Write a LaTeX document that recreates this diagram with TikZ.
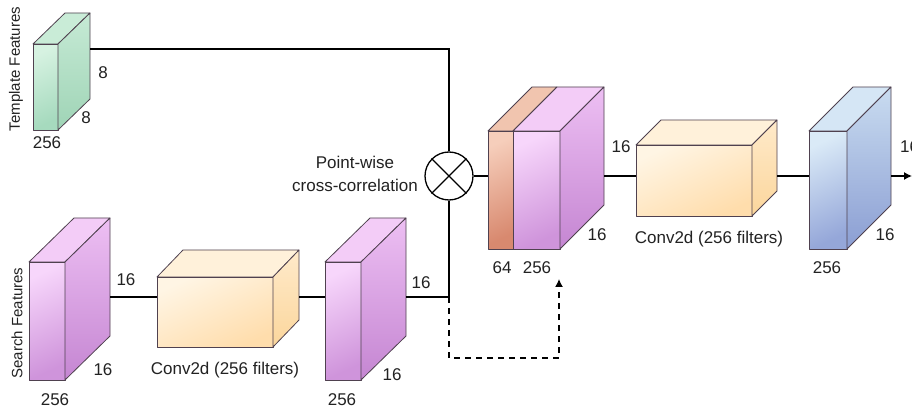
\documentclass[tikz,border=0pt]{standalone}
\usepackage{fontspec}
\setmainfont{Liberation Sans}
\usetikzlibrary{arrows.meta}
\definecolor{edgec}{HTML}{4F414F}
\definecolor{txt}{HTML}{222222}
% purple
\definecolor{purF1}{HTML}{F7D6FB}\definecolor{purF2}{HTML}{CF94DB}
\definecolor{purT}{HTML}{F3CCF7}
\definecolor{purS1}{HTML}{EDBFF3}\definecolor{purS2}{HTML}{C586D2}
% green
\definecolor{grnF1}{HTML}{D6F2E1}\definecolor{grnF2}{HTML}{A6DABE}
\definecolor{grnT}{HTML}{C9ECD7}
\definecolor{grnS1}{HTML}{C6EAD5}\definecolor{grnS2}{HTML}{9FD4B6}
% orange (conv)
\definecolor{orgF1}{HTML}{FFF5E4}\definecolor{orgF2}{HTML}{FFDDAC}
\definecolor{orgT}{HTML}{FFF1DA}
\definecolor{orgS1}{HTML}{FFEACA}\definecolor{orgS2}{HTML}{FBD69C}
% blue
\definecolor{bluF1}{HTML}{DAEAF7}\definecolor{bluF2}{HTML}{95A7D9}
\definecolor{bluT}{HTML}{D5E6F5}
\definecolor{bluS1}{HTML}{C9DCF0}\definecolor{bluS2}{HTML}{8B9ED3}
% salmon
\definecolor{salF1}{HTML}{F6CEBB}\definecolor{salF2}{HTML}{D8896F}
\definecolor{salT}{HTML}{F1C5AF}
\tikzset{
  edge/.style={draw=edgec, line width=0.8pt, line join=round},
  conn/.style={line width=1.3pt, draw=black},
  lbl/.style={font=\fontsize{17}{20}\selectfont, text=txt, inner sep=0pt},
  rlbl/.style={font=\fontsize{15}{18}\selectfont, text=txt, rotate=90, inner sep=0pt},
}
% #1 x1, #2 y1 (top), #3 x2, #4 y2 (bottom), #5 dx, #6 dy (up), #7 colour prefix
\newcommand\mycuboid[7]{%
  \shade[edge, top color=#7F1, bottom color=#7F2, shading angle=25] (#1,#2) rectangle (#3,#4);
  \fill[edge, fill=#7T] (#1,#2) -- ++(#5,-#6) -- ++(#3-#1,0) -- (#3,#2) -- cycle;
  \shade[edge, top color=#7S1, bottom color=#7S2] (#3,#2) -- ++(#5,-#6) -- ++(0,#4-#2) -- (#3,#4) -- cycle;
}
\begin{document}
\begin{tikzpicture}[x=1pt,y=-1pt]
\useasboundingbox (0,0) rectangle (912,411);
\clip (0,0) rectangle (912,411);
\fill[white] (0,0) rectangle (912,411);

% ---------- cuboids ----------
\mycuboid{33}{44}{58}{130}{32}{31}{grn}   % template
\mycuboid{29}{262}{65}{380}{45}{44}{pur}  % search
\mycuboid{157}{277}{273}{347}{26}{27}{org} % conv 1
\mycuboid{325}{262}{361}{380}{45}{44}{pur} % after conv 1
% concatenated
\shade[edge, top color=salF1, bottom color=salF2, shading angle=25] (488,131) rectangle (513,249);
\shade[edge, top color=purF1, bottom color=purF2, shading angle=25] (513,131) rectangle (560,249);
\fill[edge, fill=salT] (488,131) -- (532,87) -- (557,87) -- (513,131) -- cycle;
\fill[edge, fill=purT] (513,131) -- (557,87) -- (604,87) -- (560,131) -- cycle;
\shade[edge, top color=purS1, bottom color=purS2] (560,131) -- (604,87) -- (604,205) -- (560,249) -- cycle;
\mycuboid{636}{145}{752}{216}{25}{25}{org} % conv 2
\mycuboid{809}{131}{847}{249}{44}{44}{blu} % output

% ---------- connection points ----------
\coordinate (tfout) at (90,49);
\coordinate (tfturn) at (449,49);
\coordinate (sfout) at (110,297);
\coordinate (c1in) at (157,297);
\coordinate (c1out) at (299,297);
\coordinate (b3in) at (325,297);
\coordinate (b3out) at (406,297);
\coordinate (junc) at (449,297);
\coordinate (catin) at (488,176);
\coordinate (catout) at (604,176);
\coordinate (c2in) at (636,176);
\coordinate (c2out) at (777,176);
\coordinate (blin) at (809,176);
\coordinate (blout) at (891,176);
\coordinate (outend) at (912,176);
\coordinate (dsh1) at (449,358);
\coordinate (dsh2) at (559,358);
\coordinate (dshend) at (559,279);

% ---------- correlation operator ----------
\node[circle, draw, line width=1.3pt, minimum size=48pt, inner sep=0pt, fill=white] (ox) at (449,176) {};
\draw[line width=1.3pt] (ox.north west) -- (ox.south east);
\draw[line width=1.3pt] (ox.north east) -- (ox.south west);

% ---------- connectors ----------
\draw[conn] (tfout) -- (tfturn) -- (ox.north);
\draw[conn] (sfout) -- (c1in);
\draw[conn] (c1out) -- (b3in);
\draw[conn] (b3out) -- (junc) -- (ox.south);
\draw[conn] (ox.east) -- (catin);
\draw[conn] (catout) -- (c2in);
\draw[conn] (c2out) -- (blin);
\draw[conn, -{Latex[length=8pt,width=8pt]}] (blout) -- (outend);
\draw[conn, dash pattern=on 6pt off 5pt, -{Latex[length=8pt,width=8pt]}] (junc) -- (dsh1) -- (dsh2) -- (dshend);

% ---------- labels ----------
\node[rlbl] (tflbl) at (16,69) {Template Features};
\node[lbl] (t8a) at (103,73) {8};
\node[lbl] (t8b) at (86,118) {8};
\node[lbl] (t256) at (47,143) {256};

\node[rlbl] (sflbl) at (17,323) {Search Features};
\node[lbl] (s16a) at (126,280) {16};
\node[lbl] (s16b) at (103,370) {16};
\node[lbl] (s256) at (55,400) {256};

\node[lbl] (c1lbl) at (225,370) {Conv2d (256 filters)};

\node[lbl] (b16a) at (421,283) {16};
\node[lbl] (b16b) at (392,375) {16};
\node[lbl] (b256) at (342,400) {256};

\node[lbl, align=center, anchor=east, font=\fontsize{17}{23}\selectfont] (pwlbl) at (418,174) {Point-wise\\cross-correlation};

\node[lbl] (k64) at (502,268) {64};
\node[lbl] (k256) at (537,268) {256};
\node[lbl] (k16a) at (597,235) {16};
\node[lbl] (k16b) at (621,147) {16};

\node[lbl] (c2lbl) at (709,239) {Conv2d (256 filters)};

\node[lbl] (o256) at (827,268) {256};
\node[lbl] (o16a) at (885,235) {16};
\node[lbl, anchor=west] (o16b) at (900,147) {16};
\end{tikzpicture}
\end{document}
